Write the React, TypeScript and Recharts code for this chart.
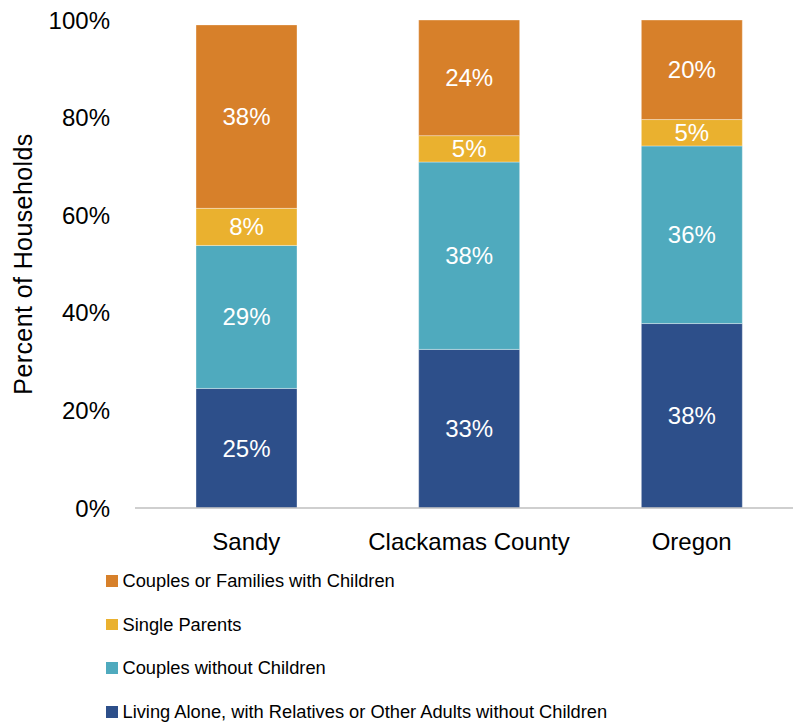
import { BarChart, Bar, XAxis, YAxis, LabelList } from 'recharts'

const places = ['Sandy', 'Clackamas County', 'Oregon']
const livingAlone = [24.5, 32.5, 37.8]
const couplesNoKids = [29.3, 38.4, 36.4]
const singleParents = [7.6, 5.4, 5.4]
const familiesWithKids = [37.6, 23.7, 20.4]
const yTicks = [0, 20, 40, 60, 80, 100]

const series = [
  { key: 'alone', name: 'Living Alone, with Relatives or Other Adults without Children', color: '#2D4F8A' },
  { key: 'couples', name: 'Couples without Children', color: '#4FAABE' },
  { key: 'single', name: 'Single Parents', color: '#EAB12F' },
  { key: 'families', name: 'Couples or Families with Children', color: '#D7802A' },
]

const data = places.map((name, i) => ({
  name,
  alone: livingAlone[i],
  couples: couplesNoKids[i],
  single: singleParents[i],
  families: familiesWithKids[i],
}))

const font = '"Liberation Sans", Arial, sans-serif'

// legend is drawn top-down in reverse stack order, like the original
function ChartLegend() {
  return (
    <div style={{ position: 'absolute', left: 106, top: 559, fontFamily: font, fontSize: 18.3, color: '#000' }}>
      {[...series].reverse().map((s) => (
        <div key={s.key} style={{ display: 'flex', alignItems: 'center', height: 43.7 }}>
          <div style={{ width: 11.5, height: 11.5, background: s.color, marginRight: 5 }} />
          <span>{s.name}</span>
        </div>
      ))}
    </div>
  )
}

export default function App() {
  return (
    <div style={{ position: 'absolute', left: 0, top: 0, width: 793, height: 726, overflow: 'hidden', background: '#fff' }}>
      <BarChart width={803} height={560} data={data} margin={{ top: 20, right: 0, left: 0, bottom: 0 }}>
        <XAxis
          dataKey="name"
          height={52}
          tickLine={false}
          tickSize={0}
          tickMargin={25}
          axisLine={{ stroke: '#BFBFBF', strokeWidth: 1.5 }}
          tick={{ fontSize: 24, fill: '#000', fontFamily: font }}
        />
        <YAxis
          width={135}
          domain={[0, 100]}
          ticks={yTicks}
          axisLine={false}
          tickLine={false}
          tickSize={0}
          tickMargin={25}
          tickFormatter={(v) => `${v}%`}
          tick={{ fontSize: 24, fill: '#000', fontFamily: font }}
          label={{
            value: 'Percent of Households',
            angle: -90,
            position: 'insideLeft',
            offset: 23,
            style: { textAnchor: 'middle', fontSize: 25, fill: '#000', fontFamily: font, letterSpacing: 0.4 },
          }}
        />
        {series.map((s) => (
          <Bar
            key={s.key}
            dataKey={s.key}
            name={s.name}
            stackId="a"
            fill={s.color}
            barSize={101}
            stroke="#ffffff"
            strokeOpacity={0.35}
            strokeWidth={1}
            isAnimationActive={false}
          >
            <LabelList
              dataKey={s.key}
              position="center"
              fill="#fff"
              fontSize={24}
              fontFamily={font}
              formatter={(v: any) => `${Math.round(Number(v))}%`}
            />
          </Bar>
        ))}
      </BarChart>
      <ChartLegend />
    </div>
  )
}
